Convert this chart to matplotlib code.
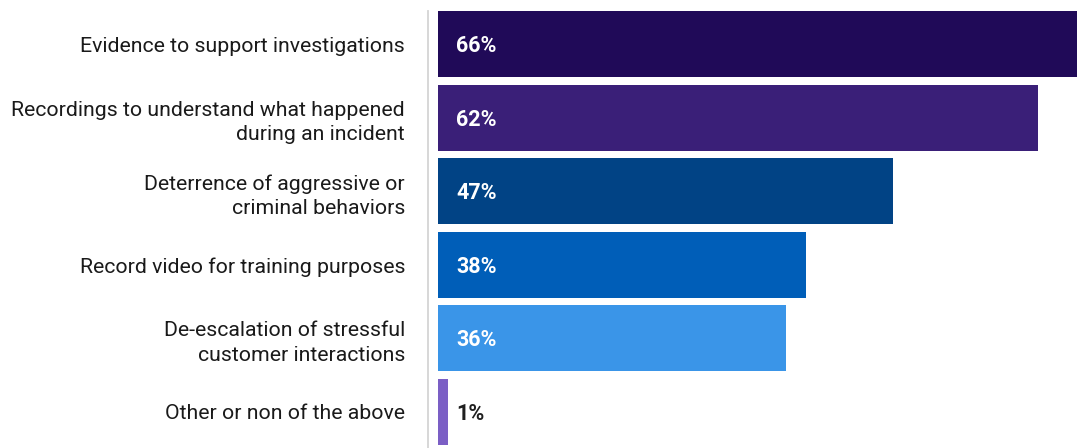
import matplotlib
matplotlib.use("Agg")
import matplotlib.pyplot as plt

categories = [
    "Evidence to support investigations",
    "Recordings to understand what happened\nduring an incident",
    "Deterrence of aggressive or\ncriminal behaviors",
    "Record video for training purposes",
    "De-escalation of stressful\ncustomer interactions",
    "Other or non of the above",
]
values = [66, 62, 47, 38, 36, 1]
labels = ["66%", "62%", "47%", "38%", "36%", "1%"]
colors = ["#200a58", "#3a1f78", "#014385", "#005eb8", "#3a95e8", "#7b5fc5"]
label_colors = ["white", "white", "white", "white", "white", "#1f1f1f"]

plt.rcParams['font.family'] = ['Roboto', 'DejaVu Sans']

W, H = 1084, 448
fig = plt.figure(figsize=(W / 100, H / 100), dpi=100)
ax = fig.add_axes([428 / W, 0, 1 - 428 / W, 437 / H])

y = list(range(len(categories)))
ax.barh(y, values, height=0.9, color=colors, left=0)
ax.set_xlim(-1.033, 66.76)
ax.set_ylim(5.49, -0.45)

for i, (lab, c) in enumerate(zip(labels, label_colors)):
    ax.text(1.9, i + 0.025, lab, ha="left", va="center", color=c,
            fontsize=15.5, fontweight="bold")

ax.set_yticks(y)
ax.set_yticklabels(categories, fontsize=15.3, color="#1a1a1a", ha="right",
                   linespacing=1.38)
ax.tick_params(axis="y", length=0, pad=16.5)
ax.set_xticks([])
for s in ["top", "right", "bottom"]:
    ax.spines[s].set_visible(False)
ax.spines["left"].set_color("#d4d4d4")
ax.spines["left"].set_linewidth(1.3)

fig.savefig("out.png", dpi=100)
